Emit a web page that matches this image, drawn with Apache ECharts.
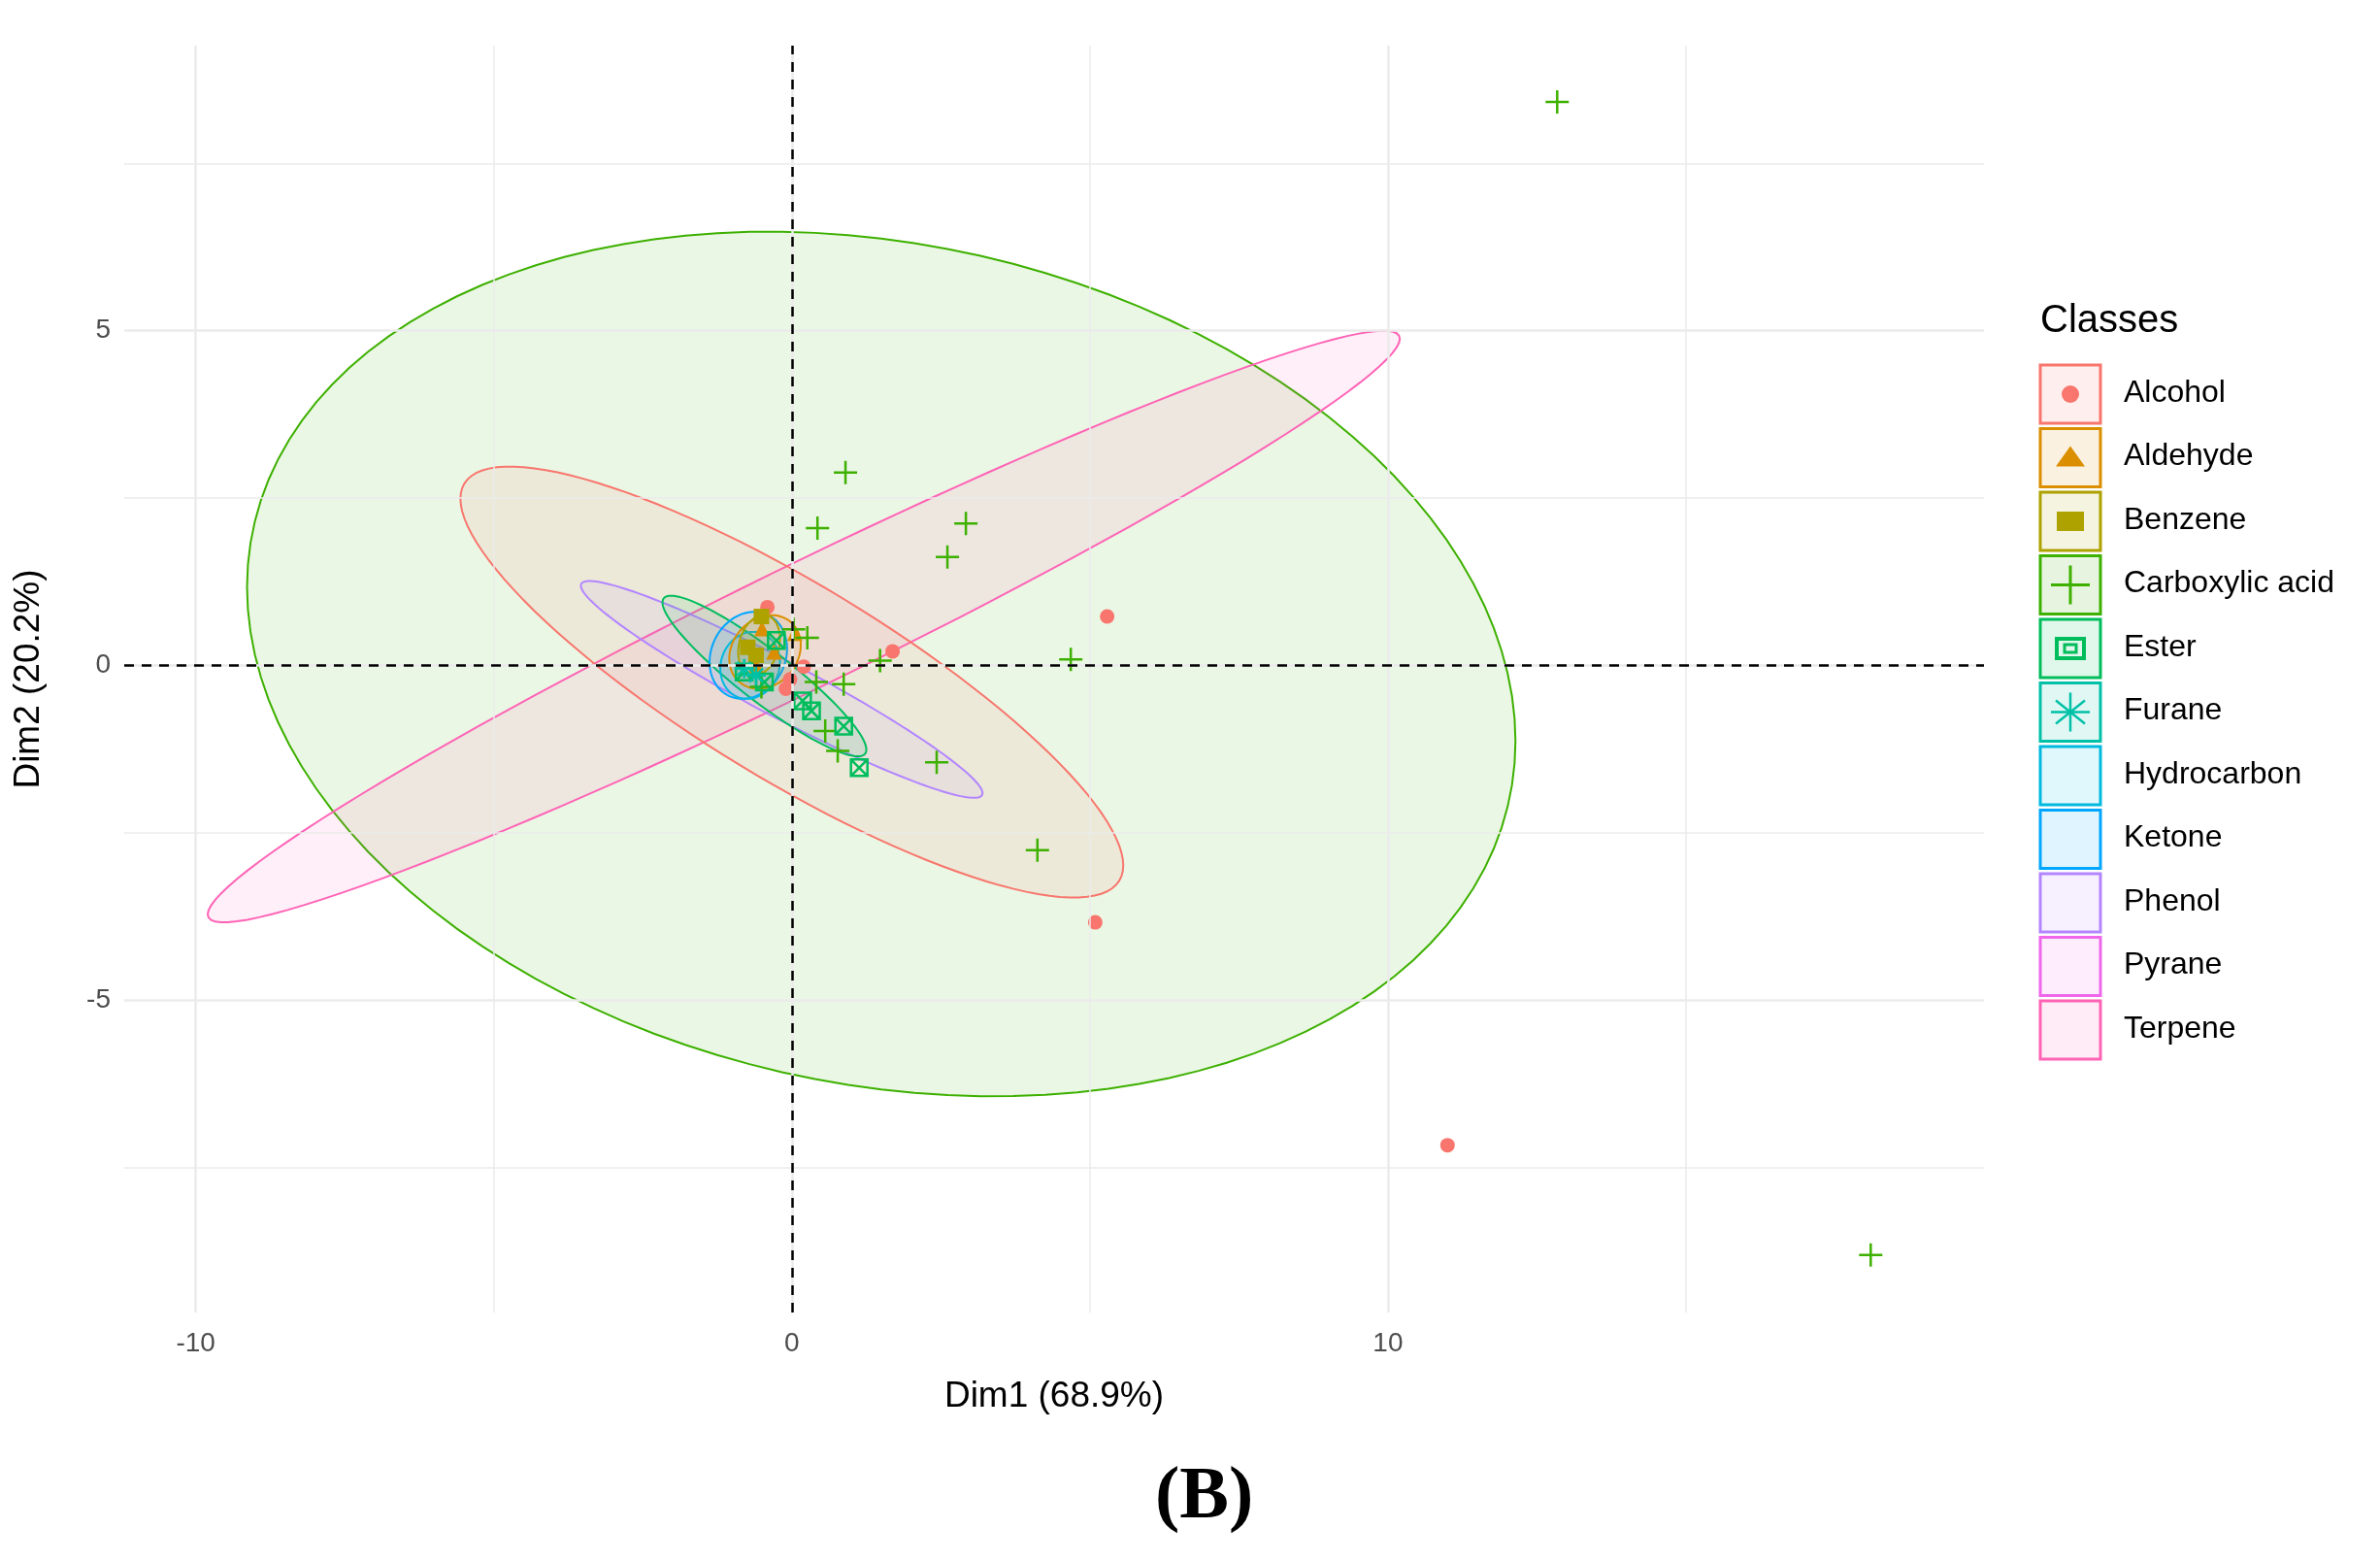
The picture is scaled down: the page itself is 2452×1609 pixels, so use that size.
<!DOCTYPE html>
<html><head><meta charset="utf-8">
<script src="https://cdn.jsdelivr.net/npm/echarts@6/dist/echarts.min.js"></script>
<style>html,body{margin:0;background:#fff}#c{width:2452px;height:1609px}</style>
</head><body><div id="c"></div>
<script>
// ---- data ----
const classes = ['Alcohol','Aldehyde','Benzene','Carboxylic acid','Ester','Furane','Hydrocarbon','Ketone','Phenol','Pyrane','Terpene'];
const colors  = ['#F8766D','#DB8E00','#AEA200','#3DB000','#00BD5C','#00C1A7','#00BADE','#00A6FF','#B385FF','#EF67EB','#FF63B6'];
// points per class [Dim1, Dim2]
const alcoholPts = [[5.29,0.73],[5.09,-3.84],[11.0,-7.17],[1.69,0.21],[-0.41,0.87],[-0.03,-0.21],[0.2,-0.02],[-0.1,-0.35]];
const aldehydePts = [[0.05,0.48],[-0.6,0.0],[-0.3,0.2],[-0.5,0.55]];
const benzenePts = [[-0.74,0.27],[-0.51,0.73],[-0.6,0.15]];
const carboxylicPts = [[12.84,8.42],[18.1,-8.81],[0.9,2.88],[0.43,2.05],[2.92,2.12],[2.61,1.62],[4.68,0.09],[1.48,0.07],[2.43,-1.45],[4.12,-2.76],[0.77,-1.28],[0.56,-0.98],[0.87,-0.28],[0.41,-0.25],[0.26,0.41],[0.03,0.54],[-0.51,-0.32]];
const esterPts = [[-0.46,-0.25],[0.18,-0.53],[0.33,-0.68],[0.87,-0.91],[1.13,-1.53],[-0.26,0.37],[-0.8,-0.1]];
const furanePts = [[-0.8,-0.05],[-0.6,-0.15]];
// confidence ellipses: class, centre x, centre y, half-width, half-height, y-offset at rightmost point
const ellClass = ['Carboxylic acid','Terpene','Alcohol','Phenol','Ester','Ketone','Hydrocarbon','Aldehyde','Benzene'];
const ellCx = [1.5, 0.2, 0.0, -0.17, -0.46, -0.73, -0.7, -0.45, -0.55];
const ellCy = [0.02, 0.58, -0.25, -0.36, -0.16, 0.15, 0.0, 0.2, 0.3];
const ellW  = [10.64, 10.0, 5.56, 3.37, 1.71, 0.65, 0.5, 0.6, 0.35];
const ellH  = [6.46, 4.42, 3.22, 1.62, 1.2, 0.65, 0.5, 0.55, 0.45];
const ellR  = [-1.15, 4.3, -2.74, -1.55, -1.1, 0.1, 0.05, 0.1, 0.1];
const xTicks = [-10, 0, 10];
const yTicks = [-5, 0, 5];
const xGrid = [-10,-5,0,5,10,15];
const yGrid = [-7.5,-5,-2.5,0,2.5,5,7.5];
// ---- chart ----
const col = n => colors[classes.indexOf(n)];
const series = [];
series.push({type:'scatter', data:[], silent:true, z:1,
  markLine:{silent:true, symbol:'none', label:{show:false}, animation:false,
    data: xGrid.map(v=>({xAxis:v, lineStyle:{color:'#ebebeb', width:(v%10===0)?2.5:1.5, type:'solid'}}))
      .concat(yGrid.map(v=>({yAxis:v, lineStyle:{color:'#ebebeb', width:(v%5===0)?2.5:1.5, type:'solid'}})))}});
ellClass.forEach((c,i)=>{
  series.push({type:'custom', z:2, silent:true, data:[[ellCx[i],ellCy[i]]],
    renderItem:(params, api)=>{
      const pts=[]; const k=Math.sqrt(Math.max(ellH[i]*ellH[i]-ellR[i]*ellR[i],0.0004));
      for(let t=0;t<=360;t+=3){const a=t*Math.PI/180;
        pts.push(api.coord([ellCx[i]+ellW[i]*Math.cos(a), ellCy[i]+ellR[i]*Math.cos(a)+k*Math.sin(a)]));}
      return {type:'polygon', shape:{points:pts}, style:{fill:echarts.color.modifyAlpha(col(c),0.1), stroke:col(c), lineWidth:2}};
    }});
});
series.push({type:'scatter', z:3, markLine:{silent:true, symbol:'none', label:{show:false}, animation:false,
  lineStyle:{color:'#000', type:[10,8], width:2.5}, data:[{xAxis:0},{yAxis:0}]}, data:[]});
const ptSeries = [
  ['Alcohol', alcoholPts, 'circle', 15, true],
  ['Aldehyde', aldehydePts, 'triangle', 16, true],
  ['Benzene', benzenePts, 'rect', 16, true],
  ['Carboxylic acid', carboxylicPts, 'path://M5,0 L5,10 M0,5 L10,5', 24, false],
  ['Ester', esterPts, 'path://M0,0 L10,0 L10,10 L0,10 Z M0,0 L10,10 M10,0 L0,10', 17, false],
  ['Furane', furanePts, 'path://M5,0 L5,10 M0,5 L10,5 M1.5,1.5 L8.5,8.5 M8.5,1.5 L1.5,8.5', 20, false]];
ptSeries.forEach(([n,d,s,sz,fill])=>{
  series.push({type:'scatter', z:4, data:d, symbol:s, symbolSize:sz, silent:true,
    itemStyle: fill?{color:col(n), opacity:1}:{color:'none', borderColor:col(n), borderWidth:2.5, opacity:1}});
});
// legend (manual)
const lg=[]; const lx=2102, ly=376, step=65.5;
lg.push({type:'text', left:lx, top:311, style:{text:'Classes', font:'40px "Liberation Sans", Arial', fill:'#000'}});
const legSym = {'Alcohol':'circle','Aldehyde':'triangle','Benzene':'rect','Carboxylic acid':'plus','Ester':'ester','Furane':'star'};
classes.forEach((c,i)=>{
  const y=ly+i*step, cc=col(c);
  lg.push({type:'rect', shape:{x:lx, y:y, width:62, height:60}, style:{fill:echarts.color.modifyAlpha(cc,0.12), stroke:cc, lineWidth:3}});
  const cx=lx+31, cy=y+30, s=legSym[c];
  if(s==='circle') lg.push({type:'circle', shape:{cx,cy,r:9}, style:{fill:cc}});
  if(s==='triangle') lg.push({type:'polygon', shape:{points:[[cx,cy-12],[cx-15,cy+9],[cx+15,cy+9]]}, style:{fill:cc}});
  if(s==='rect') lg.push({type:'rect', shape:{x:cx-14,y:cy-10,width:28,height:20}, style:{fill:cc}});
  if(s==='plus') lg.push({type:'polyline', shape:{points:[[cx,cy-20],[cx,cy+20]]}, style:{stroke:cc,lineWidth:3}},
                         {type:'polyline', shape:{points:[[cx-20,cy],[cx+20,cy]]}, style:{stroke:cc,lineWidth:3}});
  if(s==='ester') lg.push({type:'rect', shape:{x:cx-14,y:cy-10,width:28,height:20}, style:{fill:'none',stroke:cc,lineWidth:4}},
                          {type:'rect', shape:{x:cx-6,y:cy-4,width:12,height:8}, style:{fill:'none',stroke:cc,lineWidth:3}});
  if(s==='star') [[0,-20,0,20],[-20,0,20,0],[-15,-12,15,12],[15,-12,-15,12]].forEach(q=>lg.push({type:'polyline', shape:{points:[[cx+q[0],cy+q[1]],[cx+q[2],cy+q[3]]]}, style:{stroke:cc,lineWidth:2.5}}));
  lg.push({type:'text', left:lx+86, top:y+13, style:{text:c, font:'32px "Liberation Sans", Arial', fill:'#000'}});
});
lg.push({type:'text', left:1190, top:1505, style:{text:'(B)', font:'bold 76px "Liberation Serif", "Times New Roman"', fill:'#000'}});
const chart = echarts.init(document.getElementById('c'), null, {renderer:'canvas'});
chart.setOption({
  animation:false, backgroundColor:'#fff',
  grid:{left:128, right:408, top:47, bottom:257},
  xAxis:{type:'value', min:-11.2, max:20, name:'Dim1 (68.9%)', nameLocation:'middle', nameGap:68,
    nameTextStyle:{fontSize:37, color:'#000', fontFamily:'Liberation Sans'},
    axisLine:{show:false}, axisTick:{show:false}, splitLine:{show:false},
    axisLabel:{customValues:xTicks, fontSize:28, color:'#4d4d4d', margin:18, fontFamily:'Liberation Sans'}},
  yAxis:{type:'value', min:-9.67, max:9.26, name:'Dim2 (20.2%)', nameLocation:'middle', nameGap:80,
    nameTextStyle:{fontSize:37, color:'#000', fontFamily:'Liberation Sans'},
    axisLine:{show:false}, axisTick:{show:false}, splitLine:{show:false},
    axisLabel:{customValues:yTicks, fontSize:28, color:'#4d4d4d', margin:14, fontFamily:'Liberation Sans'}},
  series, graphic:lg
});
</script></body></html>
